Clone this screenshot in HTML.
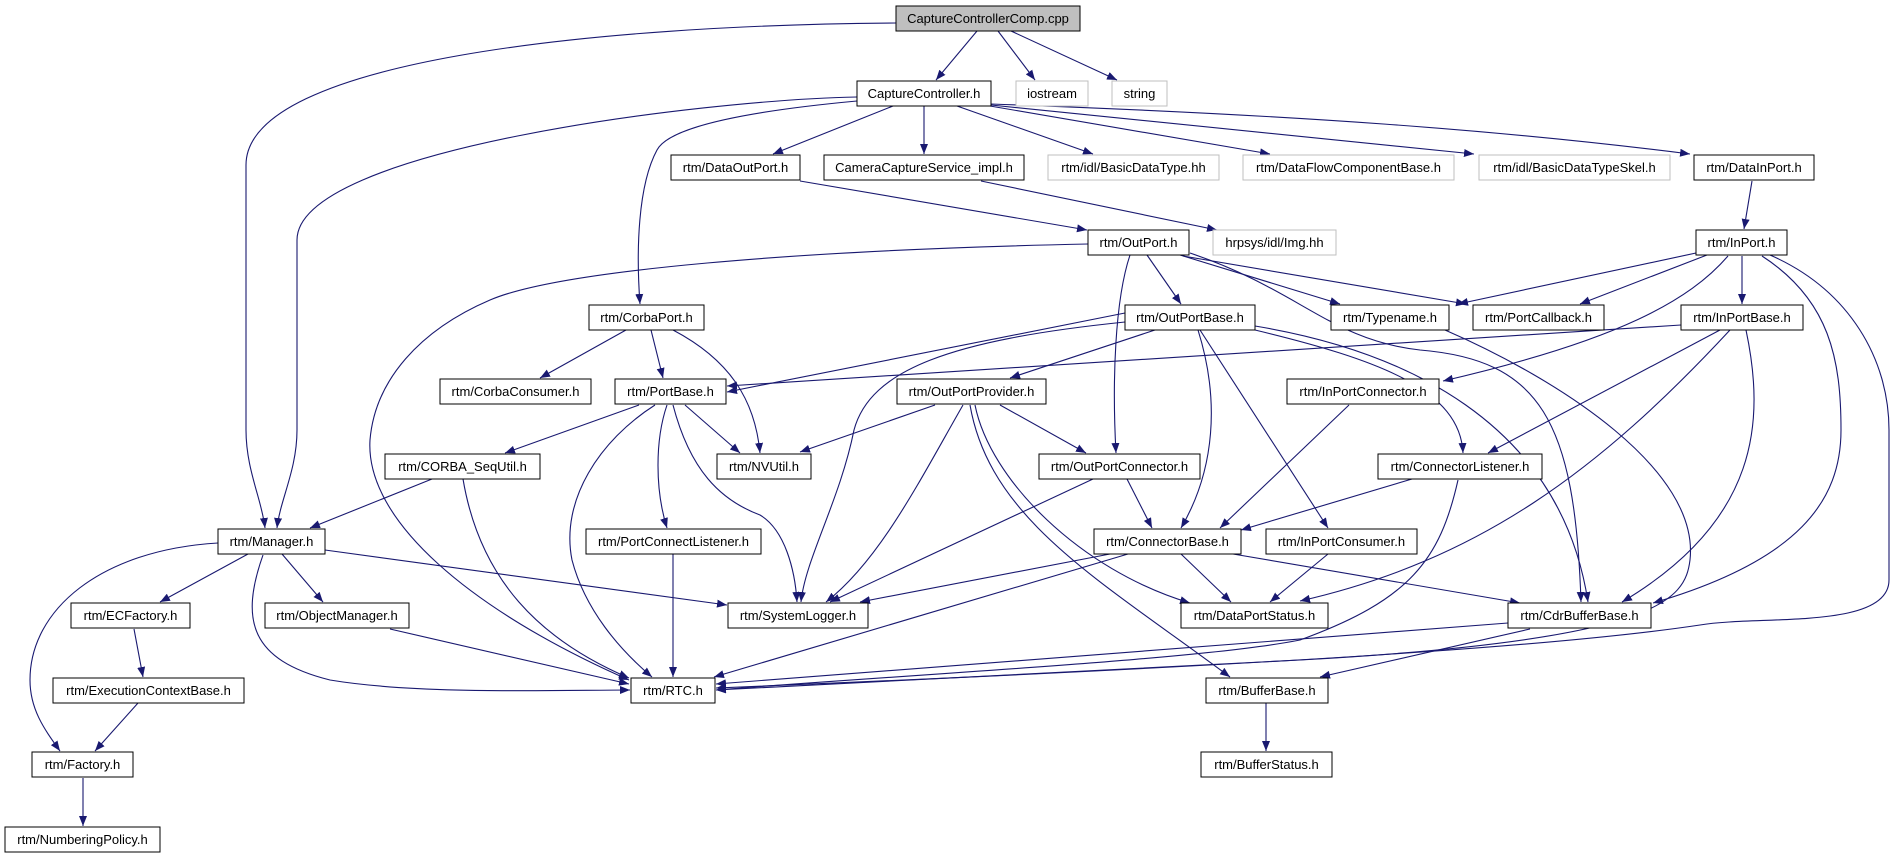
<!DOCTYPE html>
<html><head><meta charset="utf-8"><style>
html,body{margin:0;padding:0;background:#fff;width:1893px;height:859px;overflow:hidden}
svg{display:block}
text{font-family:"Liberation Sans",Arial,sans-serif;font-size:13px;fill:#000}
.n{fill:#fff;stroke:#000;stroke-width:1}
.g{fill:#fff;stroke:#bfbfbf;stroke-width:1}
.e{fill:none;stroke:#191970;stroke-width:1.1}
</style></head><body>
<svg width="1893" height="859" viewBox="0 0 1893 859" xmlns="http://www.w3.org/2000/svg">
<defs><marker id="a" viewBox="0 0 10 8" refX="10" refY="4" markerWidth="10" markerHeight="8" markerUnits="userSpaceOnUse" orient="auto"><path d="M0,0 L10,4 L0,8 z" fill="#191970"/></marker></defs>
<g class="e" marker-end="url(#a)">
<path d="M896,23 C600,25 246,60 246,165 L246,430 C246,470 262,500 265,528"/>
<path d="M977,31 L936,80"/>
<path d="M998,31 L1035,80"/>
<path d="M1011,31 L1117,80"/>
<path d="M857,97 C700,100 297,150 297,240 L297,430 C297,470 280,500 277,528"/>
<path d="M857,101 C760,110 670,125 657,150 C638,185 636,250 640,304"/>
<path d="M893,106 L773,154"/>
<path d="M924,106 L924,154"/>
<path d="M957,106 L1093,154"/>
<path d="M990,106 L1270,154"/>
<path d="M991,105 L1474,154"/>
<path d="M991,104 C1300,115 1500,130 1690,154"/>
<path d="M800,181 L1087,230"/>
<path d="M981,181 L1217,230"/>
<path d="M1752,181 L1744,229"/>
<path d="M1088,244 C800,250 560,270 490,300 C420,330 375,380 370,440 C365,520 470,610 629,680"/>
<path d="M1147,255 L1181,304"/>
<path d="M1130,255 C1115,300 1112,380 1116,453"/>
<path d="M1180,255 L1340,304"/>
<path d="M1183,256 L1466,304"/>
<path d="M1190,253 C1300,290 1330,340 1420,350 C1540,360 1575,420 1581,602"/>
<path d="M1255,326 C1400,350 1560,420 1588,602"/>
<path d="M1125,313 L727,392"/>
<path d="M1681,325 L727,386"/>
<path d="M1125,322 C950,340 870,370 854,430 C840,500 805,560 801,602"/>
<path d="M1155,330 L1010,378"/>
<path d="M1198,330 C1220,400 1215,470 1181,528"/>
<path d="M1200,330 L1328,528"/>
<path d="M1255,330 C1380,360 1460,390 1463,453"/>
<path d="M1445,330 C1560,380 1700,470 1690,560 C1685,600 1660,640 1300,660 L716,690"/>
<path d="M1696,253 L1458,304"/>
<path d="M1707,255 L1580,304"/>
<path d="M1728,256 C1690,300 1620,340 1443,381"/>
<path d="M1742,256 L1742,304"/>
<path d="M1762,256 C1830,300 1841,360 1841,430 C1841,500 1800,560 1653,603"/>
<path d="M1770,255 C1850,290 1889,360 1889,430 L1889,580 C1889,630 1760,615 1700,625 C1600,640 1400,660 716,688"/>
<path d="M1720,330 L1488,453"/>
<path d="M1730,330 C1600,470 1480,560 1300,601"/>
<path d="M1746,330 C1765,420 1760,520 1622,602"/>
<path d="M1349,405 L1220,528"/>
<path d="M1412,479 L1241,530"/>
<path d="M1458,480 C1440,560 1410,600 1300,640 C1200,660 900,675 716,690"/>
<path d="M626,330 L540,378"/>
<path d="M651,330 L663,378"/>
<path d="M673,330 C730,360 755,400 760,453"/>
<path d="M639,405 L505,453"/>
<path d="M685,405 L740,453"/>
<path d="M667,405 C655,440 655,490 667,528"/>
<path d="M673,405 C690,470 720,500 760,515 C785,530 795,570 797,602"/>
<path d="M655,405 C600,440 560,500 572,560 C585,610 620,650 652,677"/>
<path d="M935,405 L800,452"/>
<path d="M963,405 C920,480 880,560 826,602"/>
<path d="M1000,405 L1086,453"/>
<path d="M975,405 C990,480 1080,570 1190,603"/>
<path d="M970,405 C990,520 1100,580 1230,677"/>
<path d="M432,479 L310,528"/>
<path d="M463,479 C480,580 540,640 629,678"/>
<path d="M218,543 C100,550 30,610 30,680 C30,710 45,730 60,751"/>
<path d="M248,554 L160,602"/>
<path d="M263,555 C240,620 250,660 330,680 C420,695 560,690 630,690"/>
<path d="M282,554 L323,602"/>
<path d="M325,550 L727,605"/>
<path d="M134,629 L143,677"/>
<path d="M390,629 L629,684"/>
<path d="M138,703 L95,751"/>
<path d="M83,778 L83,826"/>
<path d="M673,554 L673,677"/>
<path d="M1127,479 L1152,528"/>
<path d="M1093,479 L830,602"/>
<path d="M1110,554 L860,602"/>
<path d="M1128,554 L714,677"/>
<path d="M1181,554 L1231,602"/>
<path d="M1233,554 L1520,603"/>
<path d="M1328,554 L1270,602"/>
<path d="M1508,623 L716,684"/>
<path d="M1530,629 L1320,677"/>
<path d="M1266,703 L1266,751"/>
</g>
<g>
<rect x="896" y="6" width="184" height="25" fill="#bfbfbf" stroke="#000"/>
<text x="988" y="23" text-anchor="middle">CaptureControllerComp.cpp</text>
<rect class="n" x="857" y="81" width="134" height="25"/><text x="924" y="98" text-anchor="middle">CaptureController.h</text>
<rect class="g" x="1016" y="81" width="72" height="25"/><text x="1052" y="98" text-anchor="middle">iostream</text>
<rect class="g" x="1112" y="81" width="55" height="25"/><text x="1139.5" y="98" text-anchor="middle">string</text>
<rect class="n" x="671" y="155" width="129" height="25"/><text x="735.5" y="172" text-anchor="middle">rtm/DataOutPort.h</text>
<rect class="n" x="824" y="155" width="200" height="25"/><text x="924" y="172" text-anchor="middle">CameraCaptureService_impl.h</text>
<rect class="g" x="1048" y="155" width="171" height="25"/><text x="1133.5" y="172" text-anchor="middle">rtm/idl/BasicDataType.hh</text>
<rect class="g" x="1243" y="155" width="211" height="25"/><text x="1348.5" y="172" text-anchor="middle">rtm/DataFlowComponentBase.h</text>
<rect class="g" x="1479" y="155" width="191" height="25"/><text x="1574.5" y="172" text-anchor="middle">rtm/idl/BasicDataTypeSkel.h</text>
<rect class="n" x="1694" y="155" width="120" height="25"/><text x="1754" y="172" text-anchor="middle">rtm/DataInPort.h</text>
<rect class="n" x="1088" y="230" width="101" height="25"/><text x="1138.5" y="247" text-anchor="middle">rtm/OutPort.h</text>
<rect class="g" x="1213" y="230" width="123" height="25"/><text x="1274.5" y="247" text-anchor="middle">hrpsys/idl/Img.hh</text>
<rect class="n" x="1696" y="230" width="91" height="25"/><text x="1741.5" y="247" text-anchor="middle">rtm/InPort.h</text>
<rect class="n" x="589" y="305" width="115" height="25"/><text x="646.5" y="322" text-anchor="middle">rtm/CorbaPort.h</text>
<rect class="n" x="1125" y="305" width="130" height="25"/><text x="1190" y="322" text-anchor="middle">rtm/OutPortBase.h</text>
<rect class="n" x="1331" y="305" width="118" height="25"/><text x="1390" y="322" text-anchor="middle">rtm/Typename.h</text>
<rect class="n" x="1473" y="305" width="131" height="25"/><text x="1538.5" y="322" text-anchor="middle">rtm/PortCallback.h</text>
<rect class="n" x="1681" y="305" width="122" height="25"/><text x="1742" y="322" text-anchor="middle">rtm/InPortBase.h</text>
<rect class="n" x="440" y="379" width="151" height="25"/><text x="515.5" y="396" text-anchor="middle">rtm/CorbaConsumer.h</text>
<rect class="n" x="615" y="379" width="111" height="25"/><text x="670.5" y="396" text-anchor="middle">rtm/PortBase.h</text>
<rect class="n" x="897" y="379" width="149" height="25"/><text x="971.5" y="396" text-anchor="middle">rtm/OutPortProvider.h</text>
<rect class="n" x="1287" y="379" width="152" height="25"/><text x="1363" y="396" text-anchor="middle">rtm/InPortConnector.h</text>
<rect class="n" x="385" y="454" width="155" height="25"/><text x="462.5" y="471" text-anchor="middle">rtm/CORBA_SeqUtil.h</text>
<rect class="n" x="717" y="454" width="94" height="25"/><text x="764" y="471" text-anchor="middle">rtm/NVUtil.h</text>
<rect class="n" x="1039" y="454" width="161" height="25"/><text x="1119.5" y="471" text-anchor="middle">rtm/OutPortConnector.h</text>
<rect class="n" x="1378" y="454" width="164" height="25"/><text x="1460" y="471" text-anchor="middle">rtm/ConnectorListener.h</text>
<rect class="n" x="218" y="529" width="107" height="25"/><text x="271.5" y="546" text-anchor="middle">rtm/Manager.h</text>
<rect class="n" x="586" y="529" width="175" height="25"/><text x="673.5" y="546" text-anchor="middle">rtm/PortConnectListener.h</text>
<rect class="n" x="1094" y="529" width="147" height="25"/><text x="1167.5" y="546" text-anchor="middle">rtm/ConnectorBase.h</text>
<rect class="n" x="1266" y="529" width="151" height="25"/><text x="1341.5" y="546" text-anchor="middle">rtm/InPortConsumer.h</text>
<rect class="n" x="71" y="603" width="119" height="25"/><text x="130.5" y="620" text-anchor="middle">rtm/ECFactory.h</text>
<rect class="n" x="265" y="603" width="144" height="25"/><text x="337" y="620" text-anchor="middle">rtm/ObjectManager.h</text>
<rect class="n" x="728" y="603" width="140" height="25"/><text x="798" y="620" text-anchor="middle">rtm/SystemLogger.h</text>
<rect class="n" x="1181" y="603" width="147" height="25"/><text x="1254.5" y="620" text-anchor="middle">rtm/DataPortStatus.h</text>
<rect class="n" x="1508" y="603" width="143" height="25"/><text x="1579.5" y="620" text-anchor="middle">rtm/CdrBufferBase.h</text>
<rect class="n" x="53" y="678" width="191" height="25"/><text x="148.5" y="695" text-anchor="middle">rtm/ExecutionContextBase.h</text>
<rect class="n" x="631" y="678" width="84" height="25"/><text x="673" y="695" text-anchor="middle">rtm/RTC.h</text>
<rect class="n" x="1206" y="678" width="122" height="25"/><text x="1267" y="695" text-anchor="middle">rtm/BufferBase.h</text>
<rect class="n" x="32" y="752" width="101" height="25"/><text x="82.5" y="769" text-anchor="middle">rtm/Factory.h</text>
<rect class="n" x="1201" y="752" width="131" height="25"/><text x="1266.5" y="769" text-anchor="middle">rtm/BufferStatus.h</text>
<rect class="n" x="5" y="827" width="155" height="25"/><text x="82.5" y="844" text-anchor="middle">rtm/NumberingPolicy.h</text>
</g>
</svg>
</body></html>
